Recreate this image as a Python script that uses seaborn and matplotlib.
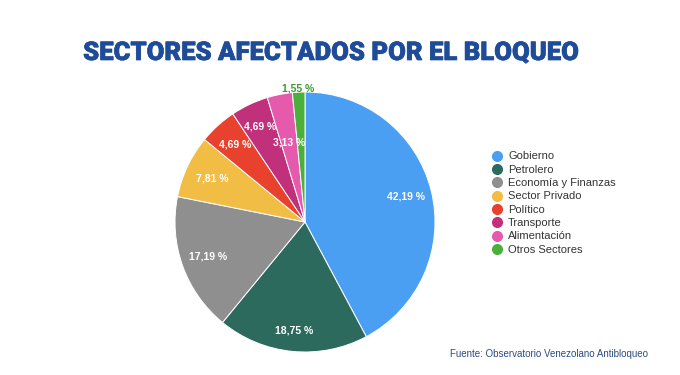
import numpy as np
import matplotlib
matplotlib.use("Agg")
import matplotlib.pyplot as plt
import matplotlib.patheffects as pe
import seaborn as sns
from matplotlib.lines import Line2D

# Data

sectors = ["Gobierno", "Petrolero", "Economía y Finanzas", "Sector Privado",
           "Político", "Transporte", "Alimentación", "Otros Sectores"]
shares = [42.19, 18.75, 17.19, 7.81, 4.69, 4.69, 3.13, 1.55]
sector_colors = ["#4A9FF3", "#2D6A5E", "#8F8F8F", "#F1BD44",
                 "#E8412D", "#C0307B", "#E65AAE", "#4DAF3B"]

title = "SECTORES AFECTADOS POR EL BLOQUEO"
source = "Fuente: Observatorio Venezolano Antibloqueo"

# Styling

sns.set_theme(style="white")
plt.rcParams["font.family"] = ["Liberation Sans", "DejaVu Sans"]

fig = plt.figure(figsize=(6.8, 3.75), dpi=100)
fig.patch.set_facecolor("white")

# pie axes: centre ~ (305, 222) px, radius ~130 px
W, H = 680, 375
cx, cy, r = 305, 222, 130
half = 135
ax = fig.add_axes([(cx - half) / W, (H - cy - half) / H, 2 * half / W, 2 * half / H])

wedges, _ = ax.pie(
    shares,
    colors=sector_colors,
    startangle=90,
    counterclock=False,
    radius=1,
    wedgeprops={"edgecolor": "white", "linewidth": 0.7},
)
lim = half / r
ax.set_xlim(-lim, lim)
ax.set_ylim(-lim, lim)
ax.set_aspect("equal")
ax.axis("off")

# value labels
label_radius = [0.80, 0.84, 0.79, 0.79, 0.80, 0.81, 0.62, 1.03]
label_colors = ["white"] * 7 + ["#3E9A30"]
for w, val, lr, lc in zip(wedges, shares, label_radius, label_colors):
    ang = np.deg2rad((w.theta1 + w.theta2) / 2)
    ax.text(lr * np.cos(ang), lr * np.sin(ang), f"{val:.2f} %".replace(".", ","),
            ha="center", va="center", color=lc, fontsize=7.5, fontweight="bold")

# legend
handles = [Line2D([0], [0], marker="o", linestyle="", markersize=7,
                  markerfacecolor=c, markeredgecolor=c, label=s)
           for s, c in zip(sectors, sector_colors)]
fig.legend(handles=handles, loc="upper left", bbox_to_anchor=(487 / W, 1 - 147 / H),
           frameon=False, fontsize=8, handletextpad=0.5, labelspacing=0.3,
           borderaxespad=0, handlelength=1.0, labelcolor="#333333")

# title and source
fig.text(331 / W, 1 - 53 / H, title, ha="center", va="center",
         fontsize=18.5, fontweight="black", color="#1F4C98",
         family=["Roboto", "DejaVu Sans"],
         path_effects=[pe.withStroke(linewidth=0.5, foreground="#1F4C98")])
fig.text(549 / W, 1 - 354 / H, source, ha="center", va="center",
         fontsize=7, color="#2B4C82")

fig.savefig("out.png", dpi=100)
